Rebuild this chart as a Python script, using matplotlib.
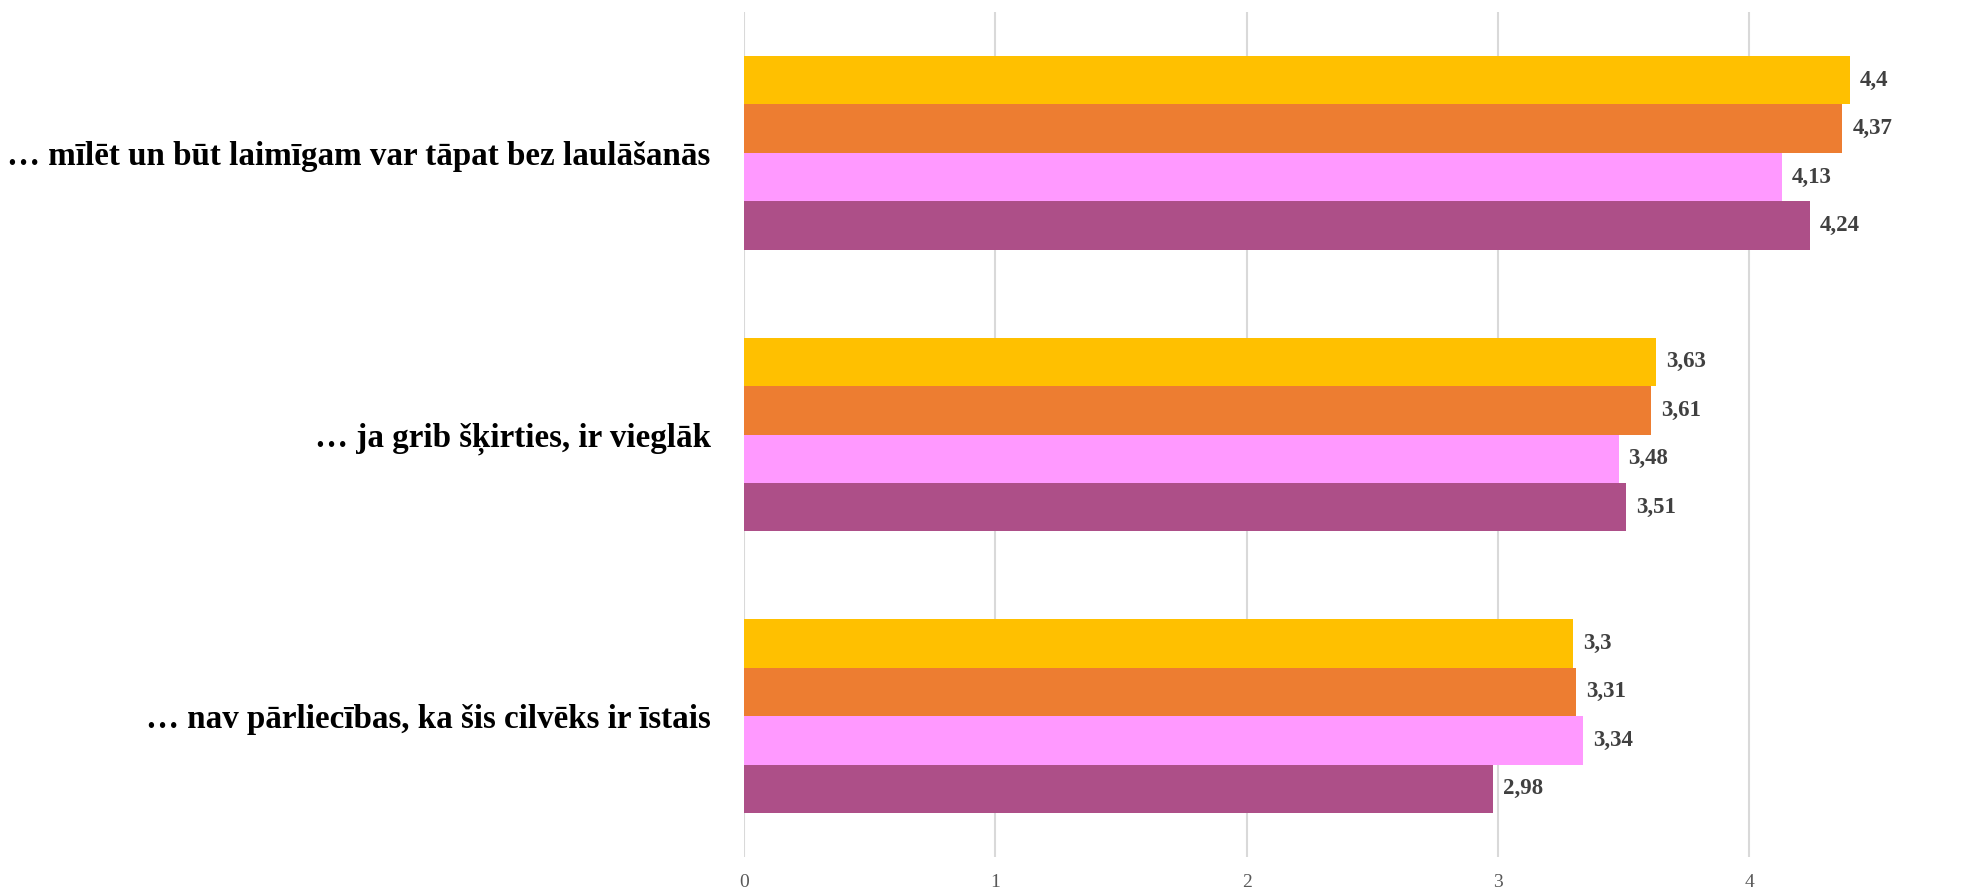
import matplotlib.pyplot as plt
import numpy as np

categories = [
    '… mīlēt un būt laimīgam var tāpat bez laulāšanās',
    '… ja grib šķirties, ir vieglāk',
    '… nav pārliecības, ka šis cilvēks ir īstais',
]
series_1 = [4.40, 3.63, 3.30]
series_2 = [4.37, 3.61, 3.31]
series_3 = [4.13, 3.48, 3.34]
series_4 = [4.24, 3.51, 2.98]
colors = ['#FFC000', '#ED7D31', '#FF99FF', '#AD4F88']
x_ticks = [0, 1, 2, 3, 4]

fig = plt.figure(figsize=(19.88, 8.90), dpi=100)
ax = fig.add_axes([744 / 1988, 33 / 890, 1244 / 1988, 845 / 890])

y = np.arange(len(categories))
h = 0.172
for i, vals in enumerate([series_1, series_2, series_3, series_4]):
    pos = y + (i - 1.5) * h
    ax.barh(pos, vals, height=h, color=colors[i], zorder=2)
    for p, v in zip(pos, vals):
        ax.text(v + 0.04, p, ('%g' % v).replace('.', ','), va='center', ha='left',
                fontsize=16.5, fontweight='bold', family='Liberation Serif', color='#404040')

ax.set_xlim(0, 4.95)
ax.set_ylim(2.5, -0.5)
ax.set_xticks(x_ticks)
ax.set_xticklabels([str(t) for t in x_ticks], family='Liberation Serif', fontsize=14, color='#595959')
ax.set_yticks(y)
ax.set_yticklabels(categories, family='Liberation Serif', fontsize=23.8, fontweight='bold', color='black')
ax.tick_params(axis='both', length=0)
ax.tick_params(axis='y', pad=24)
ax.tick_params(axis='x', pad=12)
ax.grid(axis='x', color='#D9D9D9', linewidth=1.5, zorder=0)
for s in ax.spines.values():
    s.set_visible(False)

fig.savefig('out.png', dpi=100)
